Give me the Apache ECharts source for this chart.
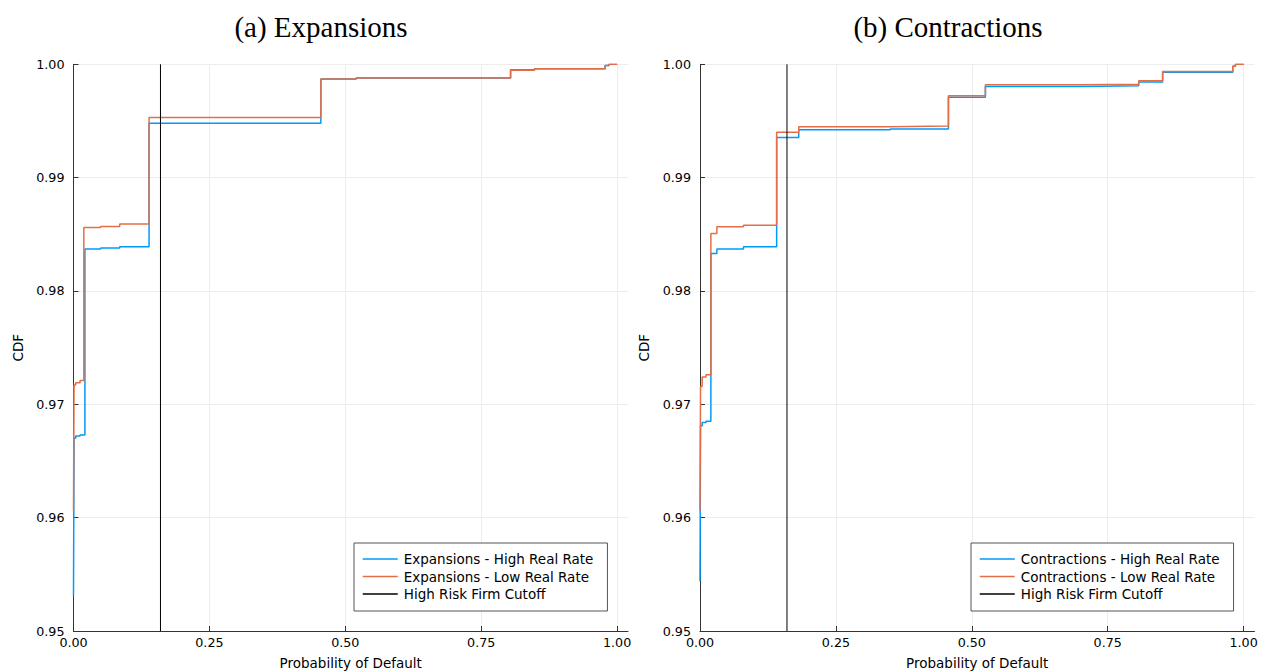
<!DOCTYPE html>
<html>
<head>
<meta charset="utf-8">
<script src="https://cdn.jsdelivr.net/npm/echarts@6/dist/echarts.min.js"></script>
<style>
  html, body { margin: 0; padding: 0; background: #ffffff; }
  #chart { width: 1262px; height: 671px; }
</style>
</head>
<body>
<div id="chart"></div>
<script>
// ---- data ----
const panelTitles = ['(a) Expansions', '(b) Contractions'];
const xTickValues = [0, 0.25, 0.5, 0.75, 1.0];
const cutoffX = 0.16;

// Expansions panel: [probability of default, CDF] (step points)
const expHigh = [[0, 0.9531], [0.001, 0.9670], [0.004, 0.9672], [0.012, 0.9673], [0.021, 0.9837],
  [0.05, 0.9838], [0.085, 0.9839], [0.139, 0.9948], [0.455, 0.9987], [0.52, 0.9988],
  [0.804, 0.99953], [0.848, 0.9996], [0.978, 0.9999], [0.985, 1.0], [1.0, 1.0]];
const expLow = [[0, 0.9606], [0.001, 0.9717], [0.004, 0.9719], [0.012, 0.9721], [0.019, 0.9856],
  [0.05, 0.9857], [0.085, 0.9859], [0.139, 0.9953], [0.455, 0.9987], [0.52, 0.9988],
  [0.804, 0.99947], [0.848, 0.9996], [0.978, 0.9999], [0.985, 1.0], [1.0, 1.0]];

// Contractions panel
const conHigh = [[0, 0.9544], [0.001, 0.9681], [0.004, 0.9684], [0.011, 0.9685], [0.020, 0.9833],
  [0.031, 0.9837], [0.08, 0.9839], [0.141, 0.99355], [0.1816, 0.99423], [0.35, 0.9943],
  [0.457, 0.9971], [0.525, 0.99805], [0.70, 0.9981], [0.807, 0.99843], [0.851, 0.9993],
  [0.98, 0.99982], [0.985, 1.0], [1.0, 1.0]];
const conLow = [[0, 0.9606], [0.001, 0.97158], [0.004, 0.9724], [0.011, 0.9726], [0.020, 0.98507],
  [0.031, 0.98566], [0.08, 0.9858], [0.141, 0.9940], [0.1816, 0.9945], [0.35, 0.99455],
  [0.457, 0.99722], [0.525, 0.9982], [0.70, 0.99823], [0.807, 0.99855], [0.851, 0.99936],
  [0.98, 0.99982], [0.985, 1.0], [1.0, 1.0]];

const seriesNames = [
  ['Expansions - High Real Rate', 'Expansions - Low Real Rate'],
  ['Contractions - High Real Rate', 'Contractions - Low Real Rate']
];
const cutoffName = 'High Risk Firm Cutoff';

// ---- styling ----
const BLUE = '#009AFA', ORANGE = '#E36F47', BLACK = '#000000';
const SANS = 'DejaVu Sans';
const yMin = 0.95, yMax = 1.0, yStep = 0.01;
const xMax = 1.02;

const grids = [
  { left: 73.5, top: 64.3, width: 554.5, height: 566.7, containLabel: false, outerBoundsMode: 'none' },
  { left: 700, top: 64.3, width: 554.5, height: 566.7, containLabel: false, outerBoundsMode: 'none' }
];

function xAxisFor(i) {
  return {
    type: 'value', gridIndex: i, min: 0, max: xMax,
    name: 'Probability of Default', nameLocation: 'middle', nameGap: 25,
    nameTextStyle: { fontFamily: SANS, fontSize: 13.5, color: '#000' },
    axisLine: { show: true, onZero: false, lineStyle: { color: '#333', width: 1 } },
    axisTick: { show: true, inside: true, length: 5, lineStyle: { color: '#333' }, customValues: xTickValues },
    axisLabel: { show: true, margin: 5, fontFamily: SANS, fontSize: 12.7, color: '#000',
      customValues: xTickValues, formatter: v => v.toFixed(2) },
    splitLine: { show: true, lineStyle: { color: '#ededed', width: 1 } }
  };
}
function yAxisFor(i) {
  return {
    type: 'value', gridIndex: i, min: yMin, max: yMax, interval: yStep,
    name: 'CDF', nameLocation: 'middle', nameGap: 49, nameRotate: 90,
    nameTextStyle: { fontFamily: SANS, fontSize: 13.5, color: '#000' },
    axisLine: { show: true, onZero: false, lineStyle: { color: '#333', width: 1 } },
    axisTick: { show: true, inside: true, length: 5, lineStyle: { color: '#333' } },
    axisLabel: { show: true, margin: 9, fontFamily: SANS, fontSize: 12.7, color: '#000',
      formatter: v => v.toFixed(2) },
    splitLine: { show: true, lineStyle: { color: '#ededed', width: 1 } }
  };
}

function stepSeries(name, data, color, idx) {
  return {
    name, type: 'line', data, step: 'end', xAxisIndex: idx, yAxisIndex: idx,
    symbol: 'none', showSymbol: false, clip: true,
    lineStyle: { color, width: 1.5 }, itemStyle: { color }, emphasis: { disabled: true }
  };
}
function cutoffSeries(idx) {
  return {
    name: cutoffName, type: 'line', data: [[cutoffX, yMin], [cutoffX, yMax]],
    xAxisIndex: idx, yAxisIndex: idx, symbol: 'none', showSymbol: false,
    lineStyle: { color: BLACK, width: 1 }, itemStyle: { color: BLACK }, emphasis: { disabled: true }
  };
}

const panelData = [[expHigh, expLow], [conHigh, conLow]];
const series = [];
for (let i = 0; i < 2; i++) {
  series.push(stepSeries(seriesNames[i][0], panelData[i][0], BLUE, i));
  series.push(stepSeries(seriesNames[i][1], panelData[i][1], ORANGE, i));
  series.push(cutoffSeries(i));
}

const legendPos = [{ left: 354, top: 543 }, { left: 971, top: 543 }];
const legends = legendPos.map((p, i) => ({
  left: p.left, top: p.top, orient: 'vertical',
  data: [seriesNames[i][0], seriesNames[i][1], cutoffName],
  backgroundColor: '#fff', borderColor: '#555', borderWidth: 1, borderRadius: 0,
  padding: [9, 14, 10, 8], itemGap: 3.5, itemWidth: 35, itemHeight: 14,
  itemStyle: { opacity: 0 },
  lineStyle: { width: 1.5 },
  textStyle: { fontFamily: SANS, fontSize: 13.5, color: '#000', padding: [0, 0, 0, 1] },
  selectedMode: false
}));

const titleCenters = [321, 948];
const graphics = panelTitles.map((t, i) => ({
  type: 'text', x: titleCenters[i], y: 27,
  style: { text: t, font: '29px "Liberation Serif"', fill: '#000', textAlign: 'center', textVerticalAlign: 'middle' }
}));

const chart = echarts.init(document.getElementById('chart'), null, { renderer: 'svg' });
chart.setOption({
  animation: false,
  backgroundColor: '#ffffff',
  grid: grids,
  xAxis: [xAxisFor(0), xAxisFor(1)],
  yAxis: [yAxisFor(0), yAxisFor(1)],
  legend: legends,
  graphic: graphics,
  series
});
</script>
</body>
</html>
